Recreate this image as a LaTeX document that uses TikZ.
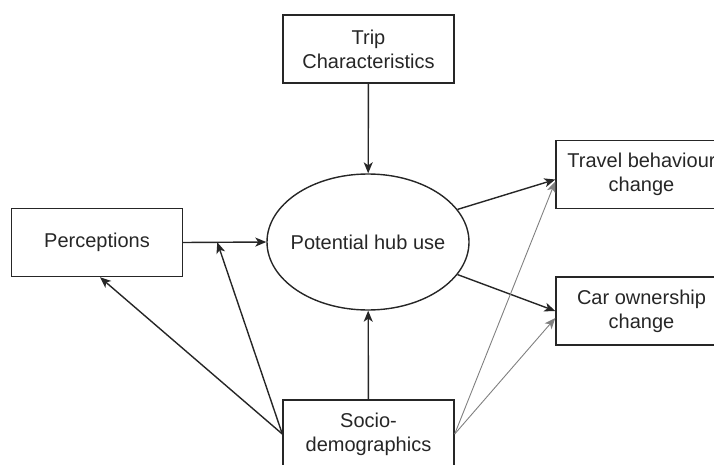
\documentclass[tikz,border=0pt]{standalone}
\usepackage{fontspec}
\setmainfont{Liberation Sans}
\usetikzlibrary{arrows.meta,shapes.geometric,calc}
\begin{document}
\begin{tikzpicture}[x=1pt,y=-1pt,
  txt/.style={font=\fontsize{20}{24}\selectfont, text=black!85, align=center},
  box/.style={txt, draw=black!85, line width=1.4pt, minimum width=171pt, minimum height=68pt, inner sep=0pt},
  oval/.style={txt, ellipse, draw=black!85, line width=1.4pt, minimum width=202pt, minimum height=136pt, inner xsep=-30pt, inner ysep=0pt},
  link/.style={draw=black!85, line width=1.4pt, -{Stealth[length=11pt,width=9pt,inset=3pt]}},
  faint/.style={draw=black!50, line width=0.9pt, -{Stealth[length=11pt,width=9pt,inset=3pt]}}]
  \useasboundingbox (0,0) rectangle (714,465);
  \clip (0,0) rectangle (714,465);

  % factors
  \node[box] (trip)   at (368.5,49)   {Trip\\Characteristics};
  \node[box] (perc)   at (97,242.5)   {Perceptions};
  \node[box] (socio)  at (368.5,434)  {Socio-\\demographics};
  \node[oval] (hub)   at (368,242)    {Potential hub use};

  % outcomes
  \node[box] (travel) at (641.5,174.5) {Travel behaviour\\change};
  \node[box] (car)    at (641.5,311)   {Car ownership\\change};

  % point on the perceptions link that the moderating arrow meets
  \coordinate (mod) at ($(perc.east)!0.41!(hub.west)$);

  \draw[link] (trip) -- (hub);
  \draw[link] (perc.east) -- (hub.west);
  \draw[link] (socio) -- (hub);
  \draw[link] (socio.west) -- ([xshift=3pt]perc.south);
  \draw[link] (socio.west) -- (mod);
  \draw[link] (hub.20) -- ([yshift=-5pt]travel.west);
  \draw[link] (hub.-20) -- (car.west);
  \draw[faint] (socio.east) -- ([yshift=-7pt]travel.west);
  \draw[faint] (socio.east) -- ([yshift=-7pt]car.west);
\end{tikzpicture}
\end{document}
